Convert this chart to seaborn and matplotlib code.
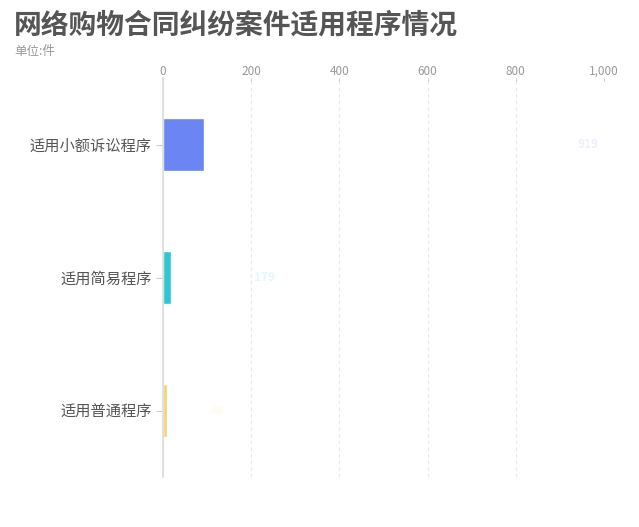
import matplotlib
matplotlib.use("Agg")
import matplotlib.pyplot as plt
import seaborn as sns
import pandas as pd
from matplotlib.ticker import FuncFormatter, FixedLocator

categories = ["适用小额诉讼程序", "适用简易程序", "适用普通程序"]
bar_values = [94, 19, 9]          # bar lengths as drawn
label_values = [919, 179, 88]     # faint value labels
colors = ["#6B86F2", "#2EC6D4", "#F7D36B"]
x_ticks = [0, 200, 400, 600, 800, 1000]

sns.set_theme(style="white")
plt.rcParams['font.family'] = ['Noto Sans CJK SC', 'DejaVu Sans']

df = pd.DataFrame({"cat": categories, "val": bar_values})

fig = plt.figure(figsize=(6.39, 5.27), dpi=100)
ax = fig.add_axes([163/639, 1-477/527, 441/639, (477-78)/527])

sns.barplot(data=df, y="cat", x="val", hue="cat", palette=colors,
            orient="h", width=0.40, ax=ax, legend=False, saturation=1)

ax.set_xlim(0, 1000)
ax.set_ylim(2.5, -0.5)
ax.xaxis.set_major_locator(FixedLocator(x_ticks))
ax.xaxis.set_major_formatter(FuncFormatter(lambda v, p: f"{int(v):,}"))
ax.xaxis.tick_top()
ax.tick_params(axis="x", colors="#cccccc", labelcolor="#999999", labelsize=8.5,
               length=2, width=0.8, pad=0, direction="in")
ax.tick_params(axis="y", colors="#cccccc", labelcolor="#555555", labelsize=11,
               length=5, width=0.8, pad=3, left=True)
ax.set_xlabel("")
ax.set_ylabel("")
ax.grid(axis="x", color="#e8e8e8", linestyle=(0, (3, 3)), linewidth=0.8)
ax.set_axisbelow(True)
for s in ["top", "right", "bottom"]:
    ax.spines[s].set_visible(False)
ax.spines["left"].set_color("#dddddd")
ax.spines["left"].set_linewidth(1.2)
ax.axvline(0, color="#dddddd", linewidth=1.2, zorder=1)

offsets = [44, 51, 36]
for i, (lv, c) in enumerate(zip(label_values, colors)):
    ax.text(lv + offsets[i], i, f"{lv}", color=c, alpha=0.12, fontsize=8.5,
            fontweight="bold", va="center", ha="center")

fig.text(14/639, 1-26/527, "网络购物合同纠纷案件适用程序情况", fontsize=20,
         fontweight="semibold", color="#555555", va="center", ha="left")
fig.text(14/639, 1-51/527, "单位:件", fontsize=9, color="#999999",
         va="center", ha="left")

fig.savefig("out.png", dpi=100, facecolor="white")
